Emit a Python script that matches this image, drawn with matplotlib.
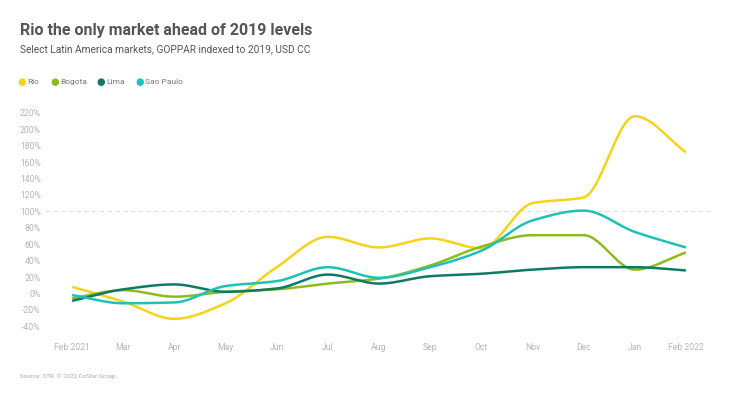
import numpy as np
import matplotlib
matplotlib.use("Agg")
import matplotlib.pyplot as plt

plt.rcParams['font.family'] = ['Roboto', 'DejaVu Sans']

months = ["Feb 2021", "Mar", "Apr", "May", "Jun", "Jul", "Aug",
          "Sep", "Oct", "Nov", "Dec", "Jan", "Feb 2022"]

# GOPPAR indexed to 2019 (%)
rio = [8, -10, -31, -12, 32, 69, 56, 67, 55, 110, 117, 216, 172]
bogota = [-6, 4, -4, 2, 5, 12, 18, 34, 57, 71, 71, 29, 50]
lima = [-9, 5, 11, 2, 6, 23, 12, 21, 24, 29, 32, 32, 28]
sao_paulo = [-2, -12, -11, 9, 15, 32, 19, 32, 52, 89, 101, 75, 56]

series = [
    ("Rio", rio, "#F5D31A"),
    ("Bogota", bogota, "#8DBB1F"),
    ("Lima", lima, "#0E7A64"),
    ("Sao Paulo", sao_paulo, "#1DC2B7"),
]

y_ticks = list(range(-40, 221, 20))


def monotone_curve(x, y, n=30):
    # monotone cubic (like d3 curveMonotoneX)
    x = np.asarray(x, float)
    y = np.asarray(y, float)
    h = np.diff(x)
    d = np.diff(y) / h
    m = np.zeros_like(y)
    for i in range(1, len(y) - 1):
        if d[i - 1] * d[i] <= 0:
            m[i] = 0
        else:
            m[i] = 2 / (1 / d[i - 1] + 1 / d[i])
    m[0] = d[0]
    m[-1] = d[-1]
    xs, ys = [], []
    for i in range(len(x) - 1):
        t = np.linspace(0, 1, n, endpoint=False)
        h00 = 2 * t**3 - 3 * t**2 + 1
        h10 = t**3 - 2 * t**2 + t
        h01 = -2 * t**3 + 3 * t**2
        h11 = t**3 - t**2
        xs.append(x[i] + t * h[i])
        ys.append(h00 * y[i] + h10 * h[i] * m[i] + h01 * y[i + 1] + h11 * h[i] * m[i + 1])
    xs.append([x[-1]])
    ys.append([y[-1]])
    return np.concatenate(xs), np.concatenate(ys)


fig = plt.figure(figsize=(7.5, 3.93), dpi=100)
ax = fig.add_axes([45 / 750, (393 - 332) / 393, (712 - 45) / 750, (332 - 108) / 393])

xpos = np.arange(len(months))
for name, vals, color in series:
    xs, ys = monotone_curve(xpos, vals)
    ax.plot(xs, ys, color=color, lw=1.8, solid_capstyle='butt')

ax.axhline(100, color="#dddddd", lw=0.8, ls=(0, (4, 3)), zorder=0)

ax.set_xlim(-0.53, 12.51)
ax.set_ylim(-47, 226)
ax.set_xticks(xpos)
ax.set_xticklabels(months)
ax.set_yticks(y_ticks)
ax.set_yticklabels([f"{v}%" for v in y_ticks])
ax.tick_params(length=0, labelsize=6.2, colors="#b5b5b5", pad=3)
ax.tick_params(axis='x', pad=8)
for s in ax.spines.values():
    s.set_visible(False)

fig.text(20 / 750, 1 - 30 / 393, "Rio the only market ahead of 2019 levels",
         fontsize=11.5, fontweight='bold', color="#555555", va='center')
fig.text(20 / 750, 1 - 49 / 393, "Select Latin America markets, GOPPAR indexed to 2019, USD CC",
         fontsize=7.3, color="#555555", va='center')

# legend
lx = [22, 55, 101, 140]
for (name, vals, color), x0 in zip(series, lx):
    fig.text(x0 / 750, 1 - 82 / 393, "\u25cf", color=color, fontsize=7,
             va='center', ha='center', family='DejaVu Sans')
    fig.text((x0 + 5) / 750, 1 - 82 / 393, name, color="#777777", fontsize=6,
             va='center')

fig.text(20 / 750, 1 - 376 / 393, "Source: STR. \u00a9 2022 CoStar Group",
         fontsize=4.5, color="#aaaaaa", va='center')

fig.savefig("out.png", dpi=100, facecolor="white")
